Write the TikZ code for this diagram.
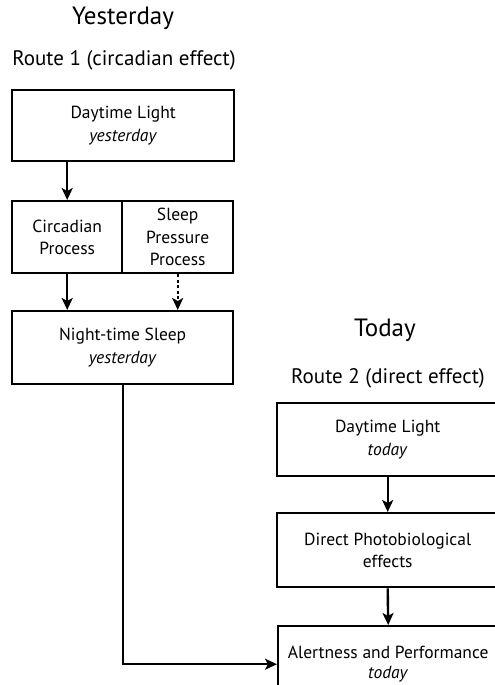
\documentclass[tikz,border=0pt]{standalone}
\usepackage{fontspec}
\setmainfont{PT Sans}
\usetikzlibrary{arrows.meta}
\begin{document}
\begin{tikzpicture}[x=1pt,y=-1pt,
  box/.style={draw,line width=2.4pt,inner sep=0pt,anchor=north west,align=center,
    font=\fontsize{17.5}{22.5}\selectfont},
  ttl/.style={font=\fontsize{25}{28}\selectfont},
  rte/.style={font=\fontsize{21}{24}\selectfont},
  arr/.style={line width=2.4pt,-{Stealth[length=12pt,width=11pt,inset=3pt]}},
  darr/.style={arr,dash pattern=on 3pt off 2.5pt}]
\useasboundingbox (0,0) rectangle (495,685);
\clip (0,0) rectangle (495,685);
% left column
\node[ttl] (ty) at (123,18) {Yesterday};
\node[rte] (r1) at (124,60) {Route 1 (circadian effect)};
\node[box,minimum width=222pt,minimum height=71pt] (b1) at (11,89) {Daytime Light\\\textit{yesterday}};
\node[box,minimum width=110pt,minimum height=72pt] (cl) at (11,200) {Circadian\\Process};
\node[box,minimum width=111pt,minimum height=72pt] (cr) at (121,200) {Sleep\\Pressure\\Process};
\node[box,minimum width=221pt,minimum height=73pt] (b3) at (11,310) {Night-time Sleep\\\textit{yesterday}};
% right column
\node[ttl] (tt) at (385,330) {Today};
\node[rte] (r2) at (388,378) {Route 2 (direct effect)};
\node[box,minimum width=221pt,minimum height=73pt] (b4) at (276,402) {Daytime Light\\\textit{today}};
\node[box,minimum width=221pt,minimum height=74pt] (b5) at (276,512) {Direct Photobiological\\effects};
\node[box,minimum width=220pt,minimum height=76pt] (b6) at (277,625) {Alertness and Performance\\[-2pt]\textit{today}};
% connectors
\draw[arr] (b1.south -| cl.north) -- (cl.north);
\draw[arr] (cl.south) -- (cl.south |- b3.north);
\draw[darr] (cr.south) -- (cr.south |- b3.north);
\draw[arr] (b4.south) -- (b5.north);
\draw[arr] (b5.south) -- (b6.north);
\draw[arr] (b3.south) |- (b6.west);
\end{tikzpicture}
\end{document}
